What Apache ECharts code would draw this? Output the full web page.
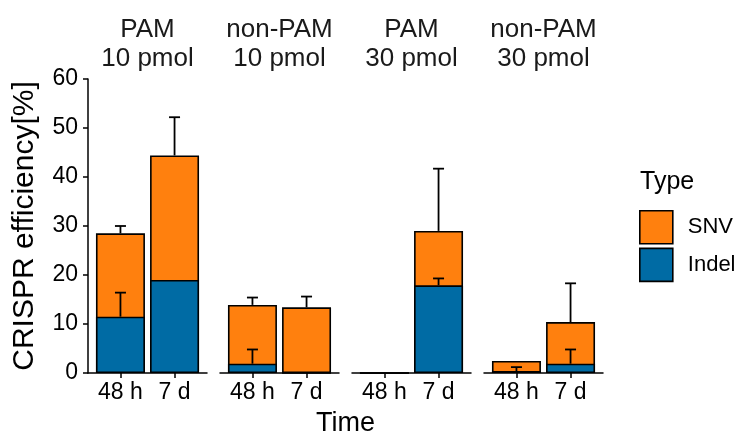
<!DOCTYPE html>
<html>
<head>
<meta charset="utf-8">
<script src="https://cdn.jsdelivr.net/npm/echarts@6/dist/echarts.min.js"></script>
<style>
html,body{margin:0;padding:0;background:#fff;}
#chart{width:745px;height:434px;}
</style>
</head>
<body>
<div id="chart"></div>
<script>
// ---- data ----
var facets = ['PAM\n10 pmol', 'non-PAM\n10 pmol', 'PAM\n30 pmol', 'non-PAM\n30 pmol'];
var times = ['48 h', '7 d'];
var yTicks = [0, 10, 20, 30, 40, 50, 60];
// per facet: [48 h, 7 d]
var indel = [[11.5, 19.0], [1.9, 0], [0, 17.9], [0.4, 1.9]];
var snv = [[17.0, 25.4], [12.0, 13.4], [0, 11.1], [2.05, 8.5]];
var indelSd = [[4.9, 0], [2.9, 0], [0, 1.4], [0.8, 2.9]];
var totalSd = [[1.5, 7.8], [1.5, 2.2], [0, 12.7], [0, 7.9]];

var FONT = '"Liberation Sans", Arial, sans-serif';
var lefts = [88, 220, 352, 484];
var W = 119, TOP = 79, H = 294;

var grids = [], xAxes = [], yAxes = [], series = [], titles = [];
facets.forEach(function (f, i) {
  grids.push({left: lefts[i], top: TOP, width: W, height: H});
  xAxes.push({
    type: 'value', gridIndex: i, min: 0.4, max: 2.6,
    splitLine: {show: false},
    axisLine: {show: true, lineStyle: {color: '#000', width: 1.5}},
    axisTick: {show: true, customValues: [1, 2], length: 5, lineStyle: {color: '#000', width: 1.5}},
    axisLabel: {customValues: [1, 2], formatter: function (v) { return times[Math.round(v) - 1]; },
      fontSize: 23, color: '#000', margin: 8, fontFamily: FONT}
  });
  yAxes.push({
    type: 'value', gridIndex: i, min: yTicks[0], max: yTicks[yTicks.length - 1], interval: 10,
    show: i === 0,
    splitLine: {show: false},
    axisLine: {show: true, lineStyle: {color: '#000', width: 1.5}},
    axisTick: {show: true, length: 5, lineStyle: {color: '#000', width: 1.5}},
    axisLabel: {fontSize: 23, color: '#000', margin: 10, fontFamily: FONT},
    name: i === 0 ? 'CRISPR efficiency[%]' : '',
    nameLocation: 'middle', nameRotate: 90, nameGap: 48,
    nameTextStyle: {fontSize: 30, color: '#000', fontFamily: FONT}
  });
  var totals = [indel[i][0] + snv[i][0], indel[i][1] + snv[i][1]];
  // SNV stacked on top of Indel: drawn as the full stack height, Indel drawn over it
  series.push({
    type: 'bar', name: 'SNV', xAxisIndex: i, yAxisIndex: i, z: 2,
    barWidth: 49, barGap: '-100%',
    data: [[1, totals[0]], [2, totals[1]]],
    itemStyle: {color: '#FF800E', borderColor: '#000', borderWidth: 1.6},
    emphasis: {disabled: true}, animation: false
  });
  series.push({
    type: 'bar', name: 'Indel', xAxisIndex: i, yAxisIndex: i, z: 3,
    barWidth: 49, barGap: '-100%',
    data: [[1, indel[i][0]], [2, indel[i][1]]],
    itemStyle: {color: '#006BA4', borderColor: '#000', borderWidth: 1.6},
    emphasis: {disabled: true}, animation: false
  });
  var err = [];
  [0, 1].forEach(function (j) {
    if (indelSd[i][j] > 0) err.push([j + 1, indel[i][j], indel[i][j] + indelSd[i][j]]);
    if (totalSd[i][j] > 0) err.push([j + 1, totals[j], totals[j] + totalSd[i][j]]);
  });
  series.push({
    type: 'custom', xAxisIndex: i, yAxisIndex: i, z: 10, silent: true, animation: false,
    data: err,
    renderItem: function (params, api) {
      var b = api.coord([api.value(0), api.value(1)]);
      var t = api.coord([api.value(0), api.value(2)]);
      var st = {stroke: '#000', lineWidth: 1.8};
      return {type: 'group', children: [
        {type: 'line', shape: {x1: b[0], y1: b[1], x2: t[0], y2: t[1]}, style: st},
        {type: 'line', shape: {x1: t[0] - 5.5, y1: t[1], x2: t[0] + 5.5, y2: t[1]}, style: st}
      ]};
    }
  });
  titles.push({
    text: f, left: lefts[i] + W / 2, top: 15, textAlign: 'center', padding: 0,
    textStyle: {fontSize: 26, fontWeight: 'normal', color: '#1a1a1a', lineHeight: 29, fontFamily: FONT}
  });
});
titles.push({
  text: 'Time', left: (lefts[0] + lefts[3] + W) / 2, top: 410, textAlign: 'center', padding: 0,
  textStyle: {fontSize: 27, fontWeight: 'normal', color: '#000', fontFamily: FONT}
});
titles.push({
  text: 'Type', left: 640, top: 170, padding: 0,
  textStyle: {fontSize: 25, fontWeight: 'normal', color: '#000', fontFamily: FONT}
});

var chart = echarts.init(document.getElementById('chart'), null, {renderer: 'canvas'});
chart.setOption({
  animation: false,
  backgroundColor: '#fff',
  title: titles,
  grid: grids,
  xAxis: xAxes,
  yAxis: yAxes,
  legend: {
    data: ['SNV', 'Indel'], orient: 'vertical', left: 639, top: 210,
    itemWidth: 33, itemHeight: 33, itemGap: 3, icon: 'rect', padding: 0,
    itemStyle: {borderColor: '#000', borderWidth: 1.6},
    textStyle: {fontSize: 22, color: '#000', fontFamily: FONT, padding: [0, 0, 0, 10]},
    selectedMode: false
  },
  series: series
});
</script>
</body>
</html>
